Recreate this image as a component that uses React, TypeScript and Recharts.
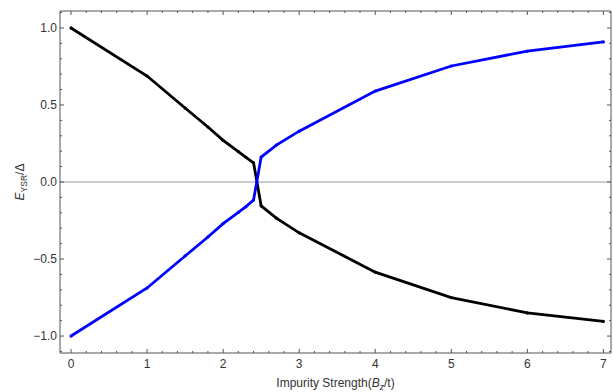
import React from 'react';
import { LineChart, Line, XAxis, YAxis, ReferenceLine } from 'recharts';

// sampled impurity strengths (B_z/t)
const xValues = [0, 1, 1.5, 1.8, 2, 2.2, 2.3, 2.4, 2.5, 2.7, 3, 4, 5, 6, 7];
// YSR energies for the two branches
const blackBranch = [1.0, 0.688, 0.48, 0.357, 0.27, 0.197, 0.16, 0.125, -0.155, -0.235, -0.33, -0.585, -0.75, -0.85, -0.905];
const blueBranch = [-1.0, -0.688, -0.48, -0.357, -0.27, -0.197, -0.16, -0.117, 0.162, 0.24, 0.33, 0.59, 0.753, 0.85, 0.909];

const xMajorTicks = [0, 1, 2, 3, 4, 5, 6, 7];
const yMajorTicks = [-1, -0.5, 0, 0.5, 1];

// minor ticks every 0.2 on x and 0.1 on y
const xTicks = Array.from({ length: 36 }, (_, i) => Math.round(i * 2) / 10);
const yTicks = Array.from({ length: 23 }, (_, i) => Math.round(i - 11) / 10);

const data = xValues.map((x, i) => ({ x, black: blackBranch[i], blue: blueBranch[i] }));

const FONT = '"Liberation Sans", Arial, sans-serif';
const FRAME = '#555';
const LABEL = '#333';

const isXMajor = (v: number) => xMajorTicks.some(t => Math.abs(t - v) < 1e-6);
const isYMajor = (v: number) => yMajorTicks.some(t => Math.abs(t - v) < 1e-6);
const fmtY = (v: number) => (v < 0 ? '\u2212' : '') + Math.abs(v).toFixed(1);

const makeXTick = (side: 'top' | 'bottom') => (props: any) => {
    const { x, y, payload } = props;
    const major = isXMajor(payload.value);
    const len = major ? 4 : 2;
    const dir = side === 'top' ? 1 : -1;
    return (
        <g>
            <line x1={x} x2={x} y1={y} y2={y + dir * len} stroke={FRAME} strokeWidth={1} />
            {side === 'bottom' && major && (
                <text x={x} y={y + 15} textAnchor="middle" fontSize={12} fontFamily={FONT} fill={LABEL}>
                    {payload.value}
                </text>
            )}
        </g>
    );
};

const makeYTick = (side: 'left' | 'right') => (props: any) => {
    const { x, y, payload } = props;
    const major = isYMajor(payload.value);
    const len = major ? 4 : 2;
    const dir = side === 'left' ? 1 : -1;
    return (
        <g>
            <line x1={x} x2={x + dir * len} y1={y} y2={y} stroke={FRAME} strokeWidth={1} />
            {side === 'left' && major && (
                <text x={x - 3} y={y + 4} textAnchor="end" fontSize={12} fontFamily={FONT} fill={LABEL}>
                    {fmtY(payload.value)}
                </text>
            )}
        </g>
    );
};

const XAxisLabel = (props: any) => {
    const { viewBox } = props;
    const cx = viewBox.x + viewBox.width / 2;
    const cy = viewBox.y + 34;
    return (
        <text x={cx} y={cy} textAnchor="middle" fontSize={12} fontFamily={FONT} fill={LABEL}>
            Impurity Strength(
            <tspan fontStyle="italic">B</tspan>
            <tspan fontStyle="italic" fontSize={8.5} dy={3}>z</tspan>
            <tspan dy={-3}>/t)</tspan>
        </text>
    );
};

const YAxisLabel = (props: any) => {
    const { viewBox } = props;
    const cx = 24;
    const cy = viewBox.y + viewBox.height / 2;
    return (
        <text x={cx} y={cy} transform={`rotate(-90, ${cx}, ${cy})`} textAnchor="middle" fontSize={12} fontFamily={FONT} fill={LABEL}>
            <tspan fontStyle="italic">E</tspan>
            <tspan fontSize={8.5} dy={3}>YSR</tspan>
            <tspan dy={-3}>/Δ</tspan>
        </text>
    );
};

export default function App() {
    return (
        <div style={{ width: 613, height: 392 }}>
            <style>{`body { margin: 0; }`}</style>
            <LineChart width={613} height={392} data={data} margin={{ top: 10, right: 1, left: 0, bottom: 0 }}>
                <XAxis
                    dataKey="x"
                    type="number"
                    domain={[-0.145, 7.1]}
                    ticks={xTicks}
                    interval={0}
                    tickSize={0}
                    tickMargin={0}
                    tickLine={false}
                    height={39}
                    allowDataOverflow
                    axisLine={{ stroke: FRAME }}
                    tick={makeXTick('bottom')}
                    label={<XAxisLabel />}
                />
                <XAxis
                    xAxisId="top"
                    orientation="top"
                    dataKey="x"
                    type="number"
                    domain={[-0.145, 7.1]}
                    ticks={xTicks}
                    interval={0}
                    tickSize={0}
                    tickMargin={0}
                    tickLine={false}
                    height={1}
                    allowDataOverflow
                    axisLine={{ stroke: FRAME }}
                    tick={makeXTick('top')}
                />
                <YAxis
                    type="number"
                    domain={[-1.11, 1.11]}
                    ticks={yTicks}
                    interval={0}
                    tickSize={0}
                    tickMargin={0}
                    tickLine={false}
                    width={60}
                    allowDataOverflow
                    axisLine={{ stroke: FRAME }}
                    tick={makeYTick('left')}
                    label={<YAxisLabel />}
                />
                <YAxis
                    yAxisId="right"
                    orientation="right"
                    type="number"
                    domain={[-1.11, 1.11]}
                    ticks={yTicks}
                    interval={0}
                    tickSize={0}
                    tickMargin={0}
                    tickLine={false}
                    width={1}
                    allowDataOverflow
                    axisLine={{ stroke: FRAME }}
                    tick={makeYTick('right')}
                />
                <ReferenceLine y={0} stroke="#999" strokeWidth={1} />
                <Line
                    dataKey="black"
                    type="linear"
                    stroke="#000"
                    strokeWidth={2.8}
                    dot={{ r: 1.6, fill: '#000', stroke: 'none' }}
                    isAnimationActive={false}
                />
                <Line
                    dataKey="blue"
                    type="linear"
                    stroke="#0000ff"
                    strokeWidth={2.8}
                    dot={{ r: 1.6, fill: '#0000ff', stroke: 'none' }}
                    isAnimationActive={false}
                />
            </LineChart>
        </div>
    );
}
